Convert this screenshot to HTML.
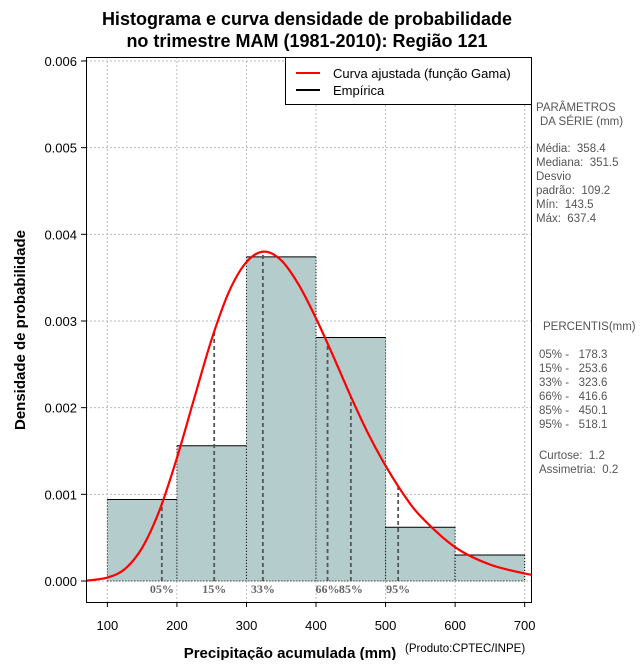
<!DOCTYPE html>
<html><head><meta charset="utf-8"><style>
body{margin:0;background:#fff;width:640px;height:660px;overflow:hidden}
svg text{font-family:"Liberation Sans",sans-serif;white-space:pre}
</style></head><body>
<svg id="chart" width="640" height="660" xmlns="http://www.w3.org/2000/svg">
<text x="307" y="25" text-anchor="middle" font-size="18" font-weight="bold">Histograma e curva densidade de probabilidade</text>
<text x="307" y="47" text-anchor="middle" font-size="18" font-weight="bold">no trimestre MAM (1981-2010): Região 121</text>
<g id="grid"></g>
<g id="bars"></g>
<g id="pct"></g>
<path id="curve" fill="none" stroke="#f00" stroke-width="2.2"/>
<g id="axes"></g>
<rect x="86.5" y="57.5" width="445" height="545" fill="none" stroke="#000"/>
<g>
<rect x="285.5" y="57.5" width="246" height="47" fill="#fff" stroke="#000"/>
<line x1="296" y1="73" x2="320" y2="73" stroke="#f00" stroke-width="2"/>
<text x="333" y="78" font-size="13">Curva ajustada (função Gama)</text>
<line x1="296" y1="90" x2="320" y2="90" stroke="#000" stroke-width="2"/>
<text x="333" y="95" font-size="13">Empírica</text>
</g>
<g font-size="11.5" fill="#555">
<text x="536" y="111">PARÂMETROS</text><text x="540" y="125">DA SÉRIE (mm)</text>
<text x="536" y="152">Média:  358.4</text><text x="536" y="166">Mediana:  351.5</text>
<text x="536" y="180">Desvio</text><text x="536" y="194">padrão:  109.2</text>
<text x="536" y="208">Mín:  143.5</text><text x="536" y="222">Máx:  637.4</text>
<text x="543" y="330">PERCENTIS(mm)</text>
<text x="539" y="358">05% -   178.3</text><text x="539" y="372">15% -   253.6</text>
<text x="539" y="386">33% -   323.6</text><text x="539" y="400">66% -   416.6</text>
<text x="539" y="414">85% -   450.1</text><text x="539" y="428">95% -   518.1</text>
<text x="539" y="459">Curtose:  1.2</text><text x="539" y="473">Assimetria:  0.2</text>
</g>
<text x="290" y="658" text-anchor="middle" font-size="15" font-weight="bold">Precipitação acumulada (mm)</text>
<text x="405" y="652" font-size="11.5">(Produto:CPTEC/INPE)</text>
<text transform="translate(25,330) rotate(-90)" text-anchor="middle" font-size="15" font-weight="bold">Densidade de probabilidade</text>
</svg>
<script>
const binEdges=[100,200,300,400,500,600,700];
const binDensity=[0.00094,0.00156,0.00374,0.00281,0.00062,0.00030];
const curveX=[70,100,125,150,175,200,225,250,275,300,325,350,375,400,425,450,475,500,525,550,600,650,700,710];
const curveY=[0.000003,0.00004,0.000137,0.000383,0.000816,0.00142,0.00211,0.00279,0.00334,0.00368,0.00380,0.00370,0.00342,0.00303,0.00259,0.00213,0.00170,0.00133,0.00101,0.00075,0.00039,0.00019,0.000087,0.000074];
const pctVals=[178.3,253.6,323.6,416.6,450.1,518.1];
const pctLabels=["05%","15%","33%","66%","85%","95%"];
const xTicks=[100,200,300,400,500,600,700];
const yTicks=[0,0.001,0.002,0.003,0.004,0.005,0.006];
const yTickLabels=["0.000","0.001","0.002","0.003","0.004","0.005","0.006"];
const NS="http://www.w3.org/2000/svg";
const X=v=>86.5+(v-70)*0.6955;
const Y=v=>581-v*86670;
function mk(t,a,p){const e=document.createElementNS(NS,t);for(const k in a)e.setAttribute(k,a[k]);p.appendChild(e);return e;}
const grid=document.getElementById('grid'),axes=document.getElementById('axes');
xTicks.forEach((t,i)=>{
 const g=mk('line',{x1:X(t),x2:X(t),y1:57,y2:602,stroke:'#bbb','stroke-dasharray':'2,2'},grid);
 
 mk('line',{x1:X(t),x2:X(t),y1:602,y2:607,stroke:'#000'},axes);
 const l=mk('text',{x:X(t),y:630,'text-anchor':'middle','font-size':'13'},axes);l.textContent=t;
 
});
yTicks.forEach((t,i)=>{
 const g=mk('line',{x1:86,x2:532,y1:Y(t),y2:Y(t),stroke:'#bbb','stroke-dasharray':'2,2'},grid);
 
 mk('line',{x1:81,x2:86,y1:Y(t),y2:Y(t),stroke:'#000'},axes);
 const l=mk('text',{x:77,y:Y(t)+5,'text-anchor':'end','font-size':'13'},axes);l.textContent=yTickLabels[i];
 
});
const bars=document.getElementById('bars');
binDensity.forEach((d,i)=>{
 const x0=X(binEdges[i]),x1=X(binEdges[i+1]);
 const r=mk('rect',{x:x0,y:Y(d),width:x1-x0,height:Y(0)-Y(d),fill:'#b4cccc'},bars);
 
 mk('line',{x1:x0,x2:x1,y1:Y(d),y2:Y(d),stroke:'#000'},bars);
 mk('line',{x1:x0,x2:x0,y1:Y(d),y2:Y(0),stroke:'#000','stroke-dasharray':'1,2'},bars);
 mk('line',{x1:x1,x2:x1,y1:Y(d),y2:Y(0),stroke:'#000','stroke-dasharray':'1,2'},bars);
});
mk('line',{x1:X(binEdges[0]),x2:X(binEdges[6]),y1:Y(0),y2:Y(0),stroke:'#000','stroke-dasharray':'1,2'},bars);
function interp(v){for(let i=0;i<curveX.length-1;i++){if(v>=curveX[i]&&v<=curveX[i+1]){const f=(v-curveX[i])/(curveX[i+1]-curveX[i]);return curveY[i]+f*(curveY[i+1]-curveY[i]);}}return 0;}
const pct=document.getElementById('pct');
pctVals.forEach((p,i)=>{
 const l=mk('line',{x1:X(p),x2:X(p),y1:Y(0),y2:Y(interp(p)),stroke:'#555','stroke-width':'1.8','stroke-dasharray':'4,3'},pct);
 
 const t=mk('text',{x:X(p),y:593,'text-anchor':'middle','font-size':'12','font-weight':'bold',fill:'#666',style:'font-family:"Liberation Serif",serif'},pct);t.textContent=pctLabels[i];
 
});
const pts=curveX.map((x,i)=>[X(x),Y(curveY[i])]);
let d='M'+pts[0][0]+','+pts[0][1];
for(let i=0;i<pts.length-1;i++){const p0=pts[Math.max(0,i-1)],p1=pts[i],p2=pts[i+1],p3=pts[Math.min(pts.length-1,i+2)];
 d+=' C'+(p1[0]+(p2[0]-p0[0])/6)+','+(p1[1]+(p2[1]-p0[1])/6)+' '+(p2[0]-(p3[0]-p1[0])/6)+','+(p2[1]-(p3[1]-p1[1])/6)+' '+p2[0]+','+p2[1];}
const cv=document.getElementById('curve');cv.setAttribute('d',d);
</script>
</body></html>
